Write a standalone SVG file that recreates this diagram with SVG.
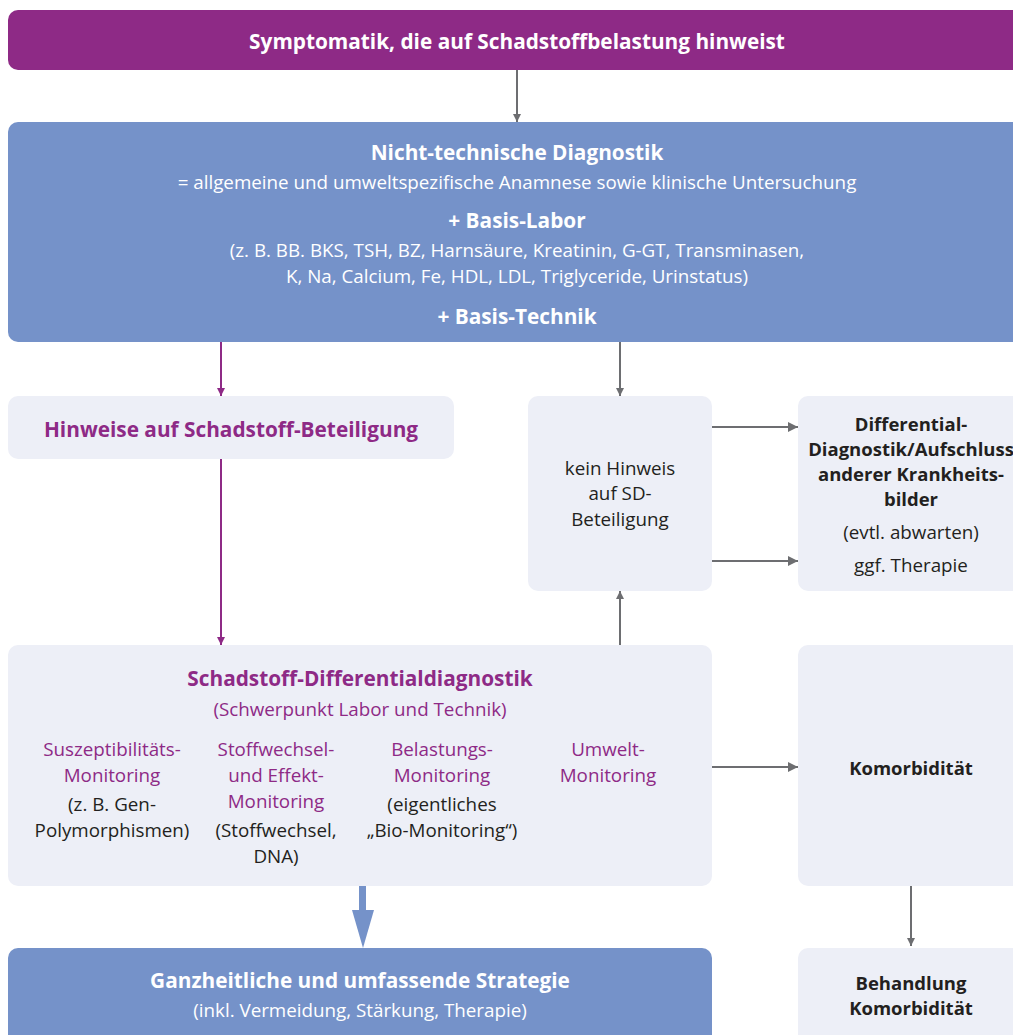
<svg xmlns="http://www.w3.org/2000/svg" width="1013" height="1035" viewBox="0 0 1013 1035">
<style>
text{font-family:"Open Sans","Liberation Sans",Arial,sans-serif;text-anchor:middle;dominant-baseline:central}
.b{font-weight:bold}
.w{fill:#ffffff}
.p{fill:#8E2A86}
.d{fill:#231F20}
.s18{font-size:18.8px}
.sb{font-size:18.5px}
.s19{font-size:20.8px}
.pur{fill:#8E2A86}
.blu{fill:#7592C9}
.lt{fill:#EDEFF7}
.cg{stroke:#6D6E71;stroke-width:2;fill:none}
.cp{stroke:#8E2A86;stroke-width:2;fill:none}
</style>
<defs>
<marker id="ag" viewBox="0 0 10 10" refX="10" refY="5" markerWidth="8" markerHeight="8" markerUnits="userSpaceOnUse" orient="auto"><path d="M0,0 L10,5 L0,10 z" fill="#6D6E71"/></marker>
<marker id="ap" viewBox="0 0 10 10" refX="10" refY="5" markerWidth="8" markerHeight="8" markerUnits="userSpaceOnUse" orient="auto"><path d="M0,0 L10,5 L0,10 z" fill="#8E2A86"/></marker>
<marker id="agh" viewBox="0 0 10 10" refX="10" refY="5" markerWidth="12" markerHeight="10" markerUnits="userSpaceOnUse" orient="auto"><path d="M0,0 L10,5 L0,10 z" fill="#6D6E71"/></marker>
</defs>
<g id="connectors">
<line class="cg" x1="517" y1="70" x2="517" y2="122" marker-end="url(#ag)"/>
<line class="cp" x1="221" y1="342" x2="221" y2="396" marker-end="url(#ap)"/>
<line class="cg" x1="620" y1="342" x2="620" y2="396" marker-end="url(#ag)"/>
<line class="cp" x1="221" y1="459" x2="221" y2="645" marker-end="url(#ap)"/>
<line class="cg" x1="620" y1="645" x2="620" y2="591" marker-end="url(#ag)"/>
<line class="cg" x1="712" y1="427" x2="798" y2="427" stroke-width="3" marker-end="url(#agh)"/>
<line class="cg" x1="712" y1="561" x2="798" y2="561" stroke-width="3" marker-end="url(#agh)"/>
<line class="cg" x1="712" y1="767" x2="798" y2="767" stroke-width="3" marker-end="url(#agh)"/>
<line class="cg" x1="911" y1="886" x2="911" y2="946" marker-end="url(#ag)"/>
<rect x="359" y="886" width="7" height="28" fill="#7592C9"/>
<path d="M352,910 L374,910 L363,948 z" fill="#7592C9"/>
</g>
<g id="n-symptomatik">
<rect class="pur" x="8" y="10" width="1030" height="60" rx="10"/>
<text class="b w s19" x="517" y="41">Symptomatik, die auf Schadstoffbelastung hinweist</text>
</g>
<g id="n-nichttechnisch">
<rect class="blu" x="8" y="122" width="1030" height="220" rx="10"/>
<text class="b w s19" x="517" y="152">Nicht-technische Diagnostik</text>
<text class="w s18" x="517" y="182">= allgemeine und umweltspezifische Anamnese sowie klinische Untersuchung</text>
<text class="b w s19" x="517" y="220">+ Basis-Labor</text>
<text class="w s18" x="517" y="250">(z. B. BB. BKS, TSH, BZ, Harnsäure, Kreatinin, G-GT, Transminasen,</text>
<text class="w s18" x="517" y="276">K, Na, Calcium, Fe, HDL, LDL, Triglyceride, Urinstatus)</text>
<text class="b w s19" x="517" y="316">+ Basis-Technik</text>
</g>
<g id="n-hinweise">
<rect class="lt" x="8" y="396" width="446" height="63" rx="10"/>
<text class="b p s19" x="231" y="429">Hinweise auf Schadstoff-Beteiligung</text>
</g>
<g id="n-keinhinweis">
<rect class="lt" x="528" y="396" width="184" height="195" rx="10"/>
<text class="d s18" x="620" y="468">kein Hinweis</text>
<text class="d s18" x="620" y="493">auf SD-</text>
<text class="d s18" x="620" y="519">Beteiligung</text>
</g>
<g id="n-differential">
<rect class="lt" x="798" y="396" width="240" height="195" rx="10"/>
<text class="b d sb" x="911" y="423">Differential-</text>
<text class="b d sb" x="911" y="448">Diagnostik/Aufschluss</text>
<text class="b d sb" x="911" y="473">anderer Krankheits-</text>
<text class="b d sb" x="911" y="498">bilder</text>
<text class="d s18" x="911" y="532">(evtl. abwarten)</text>
<text class="d s18" x="911" y="565">ggf. Therapie</text>
</g>
<g id="n-schadstoff">
<rect class="lt" x="8" y="645" width="704" height="241" rx="10"/>
<text class="b p s19" x="360" y="678">Schadstoff-Differentialdiagnostik</text>
<text class="p s18" x="360" y="709">(Schwerpunkt Labor und Technik)</text>
<text class="p s18" x="112" y="749">Suszeptibilitäts-</text>
<text class="p s18" x="112" y="775">Monitoring</text>
<text class="d s18" x="112" y="804">(z. B. Gen-</text>
<text class="d s18" x="112" y="830">Polymorphismen)</text>
<text class="p s18" x="276" y="749">Stoffwechsel-</text>
<text class="p s18" x="276" y="775">und Effekt-</text>
<text class="p s18" x="276" y="801">Monitoring</text>
<text class="d s18" x="276" y="830">(Stoffwechsel,</text>
<text class="d s18" x="276" y="856">DNA)</text>
<text class="p s18" x="442" y="749">Belastungs-</text>
<text class="p s18" x="442" y="775">Monitoring</text>
<text class="d s18" x="442" y="804">(eigentliches</text>
<text class="d s18" x="442" y="830">„Bio-Monitoring“)</text>
<text class="p s18" x="608" y="749">Umwelt-</text>
<text class="p s18" x="608" y="775">Monitoring</text>
</g>
<g id="n-komorbiditaet">
<rect class="lt" x="798" y="645" width="240" height="241" rx="10"/>
<text class="b d sb" x="911" y="767">Komorbidität</text>
</g>
<g id="n-ganzheitlich">
<rect class="blu" x="8" y="948" width="704" height="110" rx="10"/>
<text class="b w s19" x="360" y="980">Ganzheitliche und umfassende Strategie</text>
<text class="w s18" x="360" y="1010">(inkl. Vermeidung, Stärkung, Therapie)</text>
</g>
<g id="n-behandlung">
<rect class="lt" x="798" y="948" width="240" height="110" rx="10"/>
<text class="b d sb" x="911" y="982">Behandlung</text>
<text class="b d sb" x="911" y="1007">Komorbidität</text>
</g>
</svg>
